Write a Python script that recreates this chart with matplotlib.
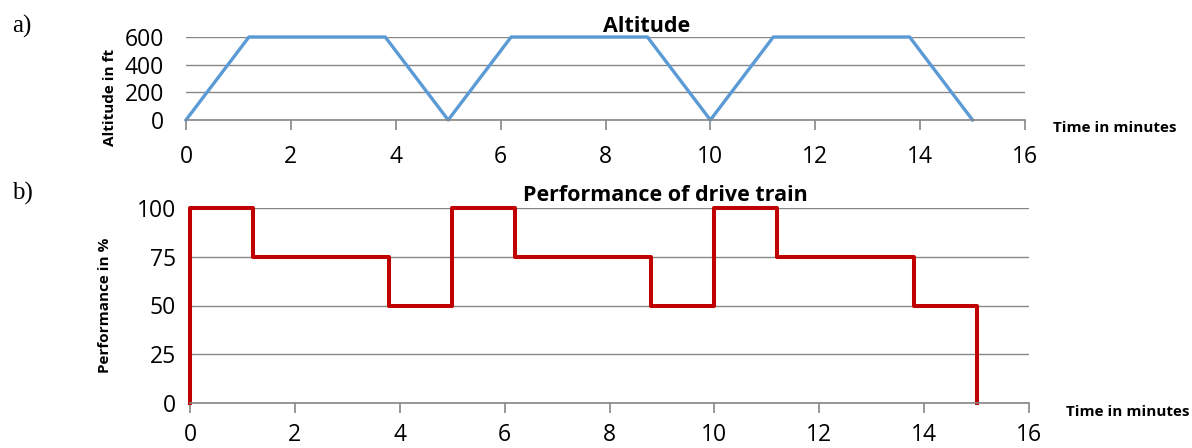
import numpy as np
import matplotlib
matplotlib.use("Agg")
from matplotlib import pyplot as plt

# altitude profile (minutes, ft)
alt_time = [0, 1.2, 3.8, 5, 6.2, 8.8, 10, 11.2, 13.8, 15]
alt_ft = [0, 600, 600, 0, 600, 600, 0, 600, 600, 0]

# drive train performance (minutes, %)
perf_time = [0, 0, 1.2, 1.2, 3.8, 3.8, 5, 5, 6.2, 6.2, 8.8, 8.8, 10, 10, 11.2, 11.2, 13.8, 13.8, 15, 15]
perf_pct = [0, 100, 100, 75, 75, 50, 50, 100, 100, 75, 75, 50, 50, 100, 100, 75, 75, 50, 50, 0]

x_ticks = [0, 2, 4, 6, 8, 10, 12, 14, 16]
alt_ticks = [0, 200, 400, 600]
perf_ticks = [0, 25, 50, 75, 100]

plt.rcParams['font.family'] = ['Open Sans', 'DejaVu Sans']

W, H = 1192, 448
fig = plt.figure(figsize=(W / 100, H / 100), dpi=100)

def px_axes(l, t, r, b):
    return fig.add_axes([l / W, 1 - b / H, (r - l) / W, (b - t) / H])

def px_text(x, y, s, **kw):
    return fig.text(x / W, 1 - y / H, s, **kw)

def style(ax, yticks, ypad, xpad):
    ax.set_xlim(0, 16)
    ax.set_xticks(x_ticks)
    ax.set_yticks(yticks)
    ax.set_ylim(yticks[0], yticks[-1])
    for s in ['top', 'right', 'left']:
        ax.spines[s].set_visible(False)
    ax.spines['bottom'].set_color('#868686')
    ax.spines['bottom'].set_linewidth(1.2)
    ax.grid(axis='y', color='#868686', linewidth=1.0)
    ax.set_axisbelow(True)
    ax.tick_params(axis='x', direction='out', length=7, width=1.2, color='#868686',
                   labelsize=16.5, pad=xpad)
    ax.tick_params(axis='y', length=0, labelsize=16.5, pad=ypad)

bold = dict(fontweight='bold', va='center')

ax1 = px_axes(186, 37, 1025, 120)
ax1.plot(alt_time, alt_ft, color='#5B9BD5', linewidth=2.4, clip_on=False)
style(ax1, alt_ticks, 16, 11)
px_text(647, 26, 'Altitude', fontsize=15.5, ha='center', **bold)
px_text(110, 97, 'Altitude in ft', fontsize=11, rotation=90, ha='center', **bold)
px_text(1053, 128, 'Time in minutes', fontsize=11, ha='left', **bold)

ax2 = px_axes(190, 208, 1029, 403)
ax2.plot(perf_time, perf_pct, color='#C00000', linewidth=2.9, clip_on=False)
style(ax2, perf_ticks, 10, 7.5)
px_text(665, 195, 'Performance of drive train', fontsize=15.5, ha='center', **bold)
px_text(105, 305, 'Performance in %', fontsize=11, rotation=90, ha='center', **bold)
px_text(1066, 412, 'Time in minutes', fontsize=11, ha='left', **bold)

px_text(12, 26, 'a)', family='Liberation Serif', fontsize=18, va='center')
px_text(12, 193, 'b)', family='Liberation Serif', fontsize=18, va='center')

fig.savefig('out.png', dpi=100)
